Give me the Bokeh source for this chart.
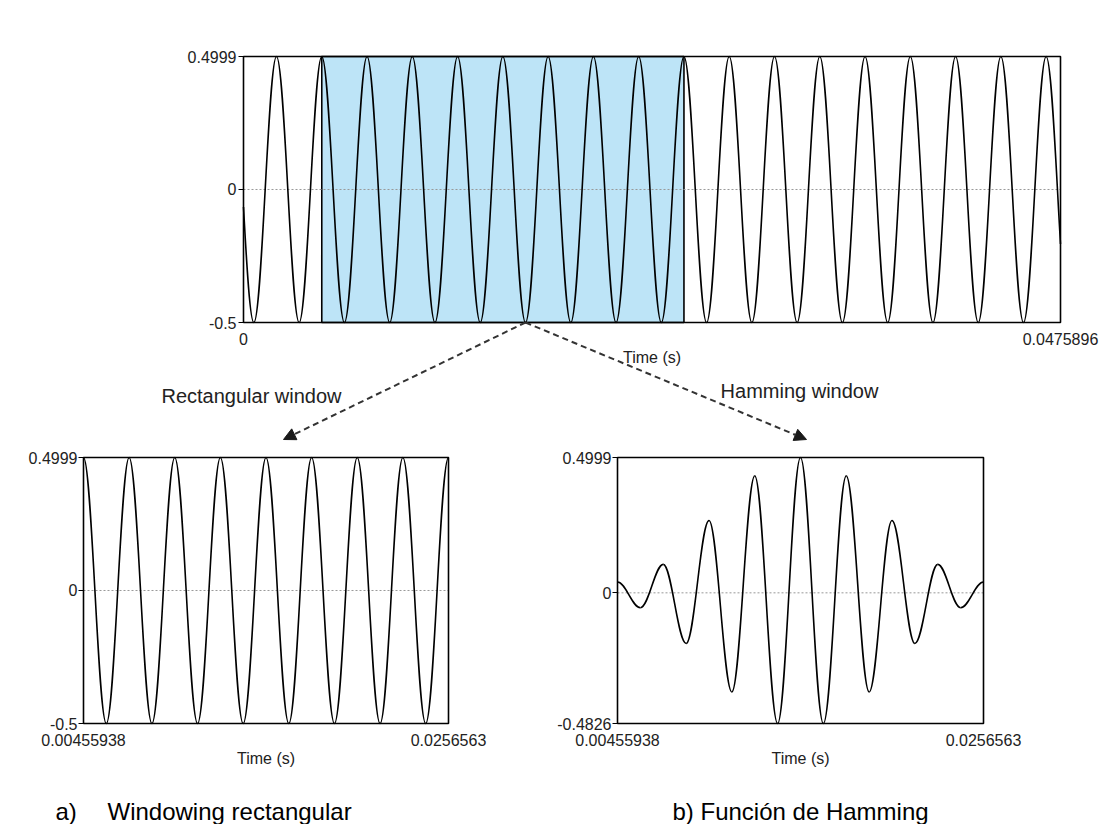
import numpy as np
from bokeh.plotting import figure
from bokeh.layouts import column, row
from bokeh.models import FixedTicker, Arrow, NormalHead, Label, Range1d, LinearAxis
from bokeh.embed import file_html
from bokeh.resources import INLINE

# ---------------- data ----------------
# successive extrema (peak / trough) of the tone in the full signal, time in s
top_t = [-0.000715, 0.000604, 0.001922, 0.003241, 0.00455938, 0.005878,
         0.007197, 0.008515, 0.009834, 0.011152, 0.012471, 0.013789,
         0.015108, 0.016426, 0.017745, 0.019064, 0.020382, 0.021701,
         0.023019, 0.024338, 0.0256563, 0.026975, 0.028293, 0.029612,
         0.030931, 0.032249, 0.033568, 0.034886, 0.036205, 0.037523,
         0.038842, 0.040161, 0.041479, 0.042798, 0.044116, 0.045435,
         0.046753, 0.048072]
top_v = [0.4999, -0.5, 0.4999, -0.5, 0.4999, -0.5, 0.4999, -0.5, 0.4999, -0.5,
         0.4999, -0.5, 0.4999, -0.5, 0.4999, -0.5, 0.4999, -0.5, 0.4999, -0.5,
         0.4999, -0.5, 0.4999, -0.5, 0.4999, -0.5, 0.4999, -0.5, 0.4999, -0.5,
         0.4999, -0.5, 0.4999, -0.5, 0.4999, -0.5, 0.4999, -0.5]

# extrema inside the analysis window
win_t = [0.00455938, 0.005878, 0.007197, 0.008515, 0.009834, 0.011152,
         0.012471, 0.013789, 0.015108, 0.016426, 0.017745, 0.019064,
         0.020382, 0.021701, 0.023019, 0.024338, 0.0256563]
rect_v = [0.4999, -0.5, 0.4999, -0.5, 0.4999, -0.5, 0.4999, -0.5, 0.4999,
          -0.5, 0.4999, -0.5, 0.4999, -0.5, 0.4999, -0.5, 0.4999]
hamm_v = [0.04, -0.055, 0.105, -0.187, 0.267, -0.366, 0.432, -0.4826, 0.4999,
          -0.4826, 0.432, -0.366, 0.267, -0.187, 0.105, -0.055, 0.04]

window_start = 0.00455938
window_end = 0.0256563
arrow_from = 0.016426   # trough under the middle of the window

top_x_ticks = [0, 0.0475896]
top_x_labels = ["0", "0.0475896"]
top_y_ticks = [-0.5, 0, 0.4999]
top_y_labels = ["-0.5", "0", "0.4999"]
win_x_ticks = [0.00455938, 0.0256563]
win_x_labels = ["0.00455938", "0.0256563"]
rect_y_ticks = [-0.5, 0, 0.4999]
rect_y_labels = ["-0.5", "0", "0.4999"]
hamm_y_ticks = [-0.4826, 0, 0.4999]
hamm_y_labels = ["-0.4826", "0", "0.4999"]

# ---------------- layout (pixels) ----------------
FONT = "Liberation Sans"
K = 0.364  # bezier handle fraction -> cosine-like arc between extrema
TOP_W, TOP_H = 1104, 443
BOT_H = 381
LEFT_W, RIGHT_W = 553, 551
BOX_TOP = 457 - TOP_H      # bottom boxes' top edge inside their canvas
BOX_BOT = 723 - TOP_H


def lerp(a, b, s):
    return (a[0] + (b[0] - a[0]) * s, a[1] + (b[1] - a[1]) * s)


def split(P, s):
    p01, p12, p23 = lerp(P[0], P[1], s), lerp(P[1], P[2], s), lerp(P[2], P[3], s)
    p012, p123 = lerp(p01, p12, s), lerp(p12, p23, s)
    m = lerp(p012, p123, s)
    return (P[0], p01, p012, m), (m, p123, p23, P[3])


def bx(P, s):
    u = 1 - s
    return u**3 * P[0][0] + 3 * u * u * s * P[1][0] + 3 * u * s * s * P[2][0] + s**3 * P[3][0]


def solve(P, x):
    lo, hi = 0.0, 1.0
    for _ in range(60):
        mid = 0.5 * (lo + hi)
        if bx(P, mid) < x:
            lo = mid
        else:
            hi = mid
    return 0.5 * (lo + hi)


def wave(p, t, v, tmin, tmax):
    cols = {k: [] for k in ("x0", "y0", "cx0", "cy0", "cx1", "cy1", "x1", "y1")}
    for i in range(len(t) - 1):
        a, b = t[i], t[i + 1]
        if b <= tmin or a >= tmax:
            continue
        d = b - a
        P = ((a, v[i]), (a + K * d, v[i]), (b - K * d, v[i + 1]), (b, v[i + 1]))
        if a < tmin:
            P = split(P, solve(P, tmin))[1]
        if P[3][0] > tmax:
            P = split(P, solve(P, tmax))[0]
        for key, pt in zip((("x0", "y0"), ("cx0", "cy0"), ("cx1", "cy1"), ("x1", "y1")), P):
            cols[key[0]].append(pt[0])
            cols[key[1]].append(pt[1])
    p.bezier(**cols, line_color="black", line_width=1.6)


def make_fig(w, h, box_px, xt, xl, yt, yl, ystandoff=2):
    """Figure whose frame fills the canvas; the plotted box sits at box_px."""
    l, tp, r, b = box_px
    sx = (xt[-1] - xt[0]) / (r - l)
    sy = (yt[-1] - yt[0]) / (b - tp)
    xr = Range1d(xt[0] - l * sx, xt[-1] + (w - r) * sx)
    yr = Range1d(yt[0] - (h - b) * sy, yt[-1] + tp * sy)
    p = figure(width=w, height=h, x_range=xr, y_range=yr, title=None,
               output_backend="svg", toolbar_location=None,
               x_axis_location=None, y_axis_location=None, min_border=0)
    p.grid.visible = False
    p.outline_line_color = None
    p.background_fill_color = "white"
    p.border_fill_color = "white"

    xa = LinearAxis(fixed_location=yt[0], bounds=(xt[0], xt[-1]),
                    ticker=FixedTicker(ticks=xt),
                    major_label_overrides=dict(zip(xt, xl)))
    ya = LinearAxis(fixed_location=xt[0], bounds=(yt[0], yt[-1]),
                    ticker=FixedTicker(ticks=yt),
                    major_label_overrides=dict(zip(yt, yl)))
    for ax in (xa, ya):
        ax.axis_line_color = None
        ax.minor_tick_line_color = None
        ax.major_label_text_font = FONT
        ax.major_label_text_font_size = "16px"
        ax.major_label_text_color = "#222222"
        ax.major_tick_in = 0
    xa.major_tick_out = 0
    xa.major_label_standoff = 10
    xa.axis_label = "Time (s)"
    xa.axis_label_text_font = FONT
    xa.axis_label_text_font_size = "16px"
    xa.axis_label_text_font_style = "normal"
    xa.axis_label_text_color = "#222222"
    xa.axis_label_standoff = 1
    ya.major_tick_out = 5
    ya.major_tick_line_color = "black"
    ya.major_label_standoff = ystandoff
    p.add_layout(xa, "below")
    p.add_layout(ya, "left")

    # dotted zero line across the box
    p.segment(x0=[xt[0]], x1=[xt[-1]], y0=[0], y1=[0], line_color="#999999",
              line_dash="2 2", line_width=1)
    return p


def frame_box(p, xt, yt):
    p.quad(left=[xt[0]], right=[xt[-1]], bottom=[yt[0]], top=[yt[-1]],
           fill_color=None, line_color="black", line_width=1.6)


# ---------------- top: whole signal ----------------
top = make_fig(TOP_W, TOP_H, (243, 56, 1060, 322),
               top_x_ticks, top_x_labels, top_y_ticks, top_y_labels)
top.quad(left=[window_start], right=[window_end], bottom=[top_y_ticks[0]],
         top=[top_y_ticks[-1]], fill_color="#bde4f7", line_color="black",
         line_width=1.6, level="underlay")
wave(top, top_t, top_v, top_x_ticks[0], top_x_ticks[-1])
frame_box(top, top_x_ticks, top_y_ticks)

for ex in (283, 806):
    top.add_layout(Arrow(x_start=arrow_from, y_start=top_y_ticks[0], start_units="data",
                         x_end=ex, y_end=TOP_H - 439, end_units="screen",
                         line_color="#333333", line_width=2, line_dash="6 4",
                         end=NormalHead(size=12, fill_color="#1a1a1a",
                                        line_color="#1a1a1a")))
for txt, cx, cy in (("Rectangular window", 251, 395), ("Hamming window", 799, 390)):
    top.add_layout(Label(x=cx, y=TOP_H - cy, x_units="screen", y_units="screen",
                         text=txt, text_align="center", text_baseline="middle",
                         text_font=FONT, text_font_size="20px",
                         text_color="#222222"))

CAP_Y = 13  # caption centre above the page bottom

# ---------------- bottom left: rectangular window ----------------
left = make_fig(LEFT_W, BOT_H, (83, BOX_TOP, 448, BOX_BOT),
                win_x_ticks, win_x_labels, rect_y_ticks, rect_y_labels, ystandoff=1)
wave(left, win_t, rect_v, win_x_ticks[0], win_x_ticks[-1])
frame_box(left, win_x_ticks, rect_y_ticks)
for txt, xx in (("a)", 55), ("Windowing rectangular", 107)):
    left.add_layout(Label(x=xx, y=CAP_Y, x_units="screen", y_units="screen",
                          text=txt, text_align="left", text_baseline="middle",
                          text_font=FONT, text_font_size="24px",
                          text_color="black"))

# ---------------- bottom right: Hamming window ----------------
right = make_fig(RIGHT_W, BOT_H, (617 - LEFT_W, BOX_TOP, 983 - LEFT_W, BOX_BOT),
                 win_x_ticks, win_x_labels, hamm_y_ticks, hamm_y_labels, ystandoff=1)
wave(right, win_t, hamm_v, win_x_ticks[0], win_x_ticks[-1])
frame_box(right, win_x_ticks, hamm_y_ticks)
right.add_layout(Label(x=672 - LEFT_W, y=CAP_Y, x_units="screen",
                       y_units="screen", text="b) Función de Hamming",
                       text_align="left", text_baseline="middle",
                       text_font=FONT, text_font_size="24px", text_color="black"))

layout = column(top, row(left, right))
open("out.html", "w").write(file_html(layout, INLINE))
